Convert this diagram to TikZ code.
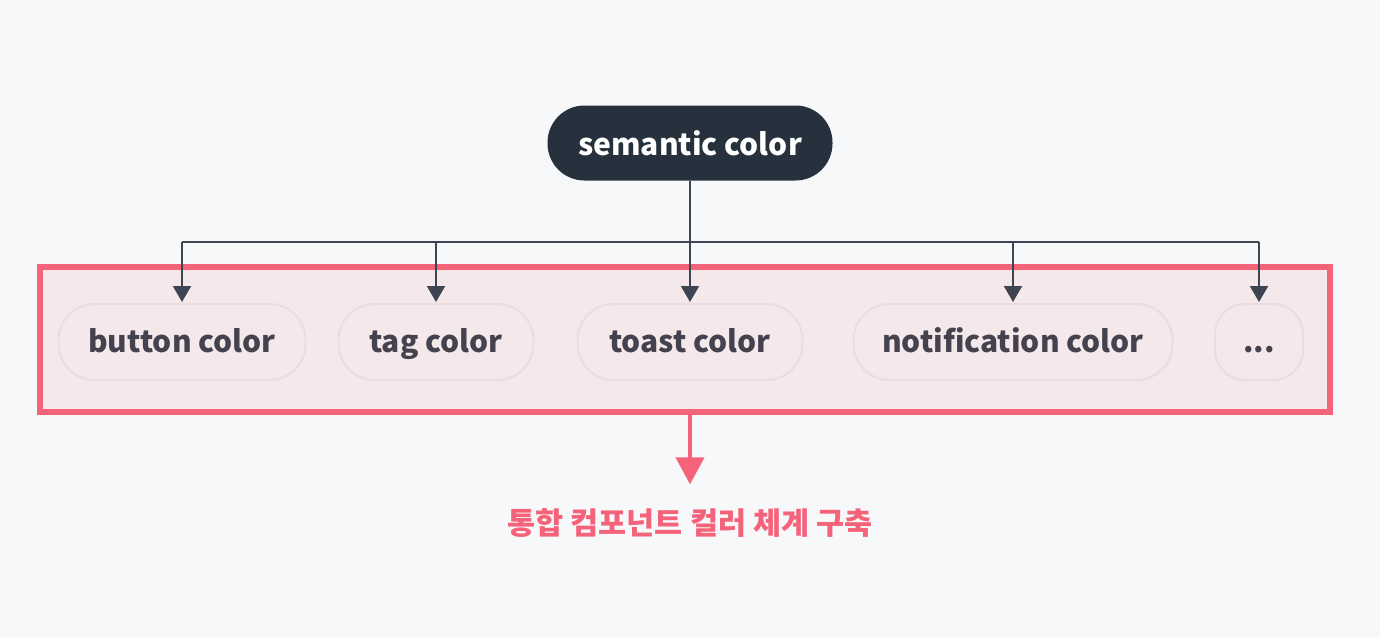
\documentclass[tikz,border=0pt]{standalone}
\usepackage{fontspec}
\setmainfont{Noto Sans CJK KR}
\usetikzlibrary{arrows.meta, positioning}
\definecolor{bgpaper}{HTML}{F7F8FA}
\definecolor{semdark}{HTML}{26313D}
\definecolor{linegray}{HTML}{3F4452}
\definecolor{compred}{HTML}{F4637A}
\definecolor{compfill}{HTML}{F5E8EB}
\definecolor{pillline}{HTML}{E8DDE1}
\definecolor{pilltext}{HTML}{45424F}

\begin{document}
\begin{tikzpicture}[
    x=1pt, y=-1pt,
    root/.style={rectangle, rounded corners=37pt, fill=semdark, text=white, minimum width=285pt, minimum height=75pt, inner sep=0pt, text height=24pt, text depth=0pt, font=\fontsize{30}{34}\selectfont\bfseries},
    pill/.style={rectangle, rounded corners=36pt, draw=pillline, line width=2pt, fill=compfill, minimum height=76pt, inner sep=0pt, text height=21pt, text depth=1pt, text=pilltext, font=\fontsize{30}{34}\selectfont\bfseries},
    groupbox/.style={rectangle, draw=compred, line width=6pt, fill=compfill, minimum width=1290pt, minimum height=145pt},
    wire/.style={draw=linegray, line width=2pt},
    arrow/.style={-{Triangle[width=18pt,length=16pt]}, draw=linegray, fill=linegray, line width=2pt},
    redarrow/.style={-{Triangle[width=28pt,length=27pt]}, draw=compred, fill=compred, line width=4pt},
    goaltext/.style={text=compred, inner sep=0pt, font=\fontsize{30.5}{34}\selectfont\bfseries}
  ]
  \useasboundingbox[fill=bgpaper] (0,0) rectangle (1380,638);

  % top node
  \node[root] (semantic) at (690,143) {semantic color};

  % component group
  \node[groupbox] (group) at (685,339.5) {};
  \node[pill, minimum width=247pt] (button) at (182,342) {button color};
  \node[pill, minimum width=195pt] (tag) at (436,342) {tag color};
  \node[pill, minimum width=225pt] (toast) at (690,342) {toast color};
  \node[pill, minimum width=319pt] (notification) at (1013,342) {notification color};
  \node[pill, minimum width=88pt, rounded corners=30pt] (more) at (1259,342) {...};

  % bus
  \coordinate (bus) at (689,242);
  \draw[wire] (semantic.south) -- (semantic.south |- bus);
  \draw[wire] (button.north |- bus) -- (more.north |- bus);
  \foreach \item in {button, tag, toast, notification, more}
    \draw[arrow, shorten >=1pt] (\item.north |- bus) -- (\item.north);

  % result
  \node[goaltext] (goal) at (690,523) {통합 컴포넌트 컬러 체계 구축};
  \draw[redarrow, shorten >=24pt] (group.south -| goal.north) -- (goal.north);
\end{tikzpicture}
\end{document}
